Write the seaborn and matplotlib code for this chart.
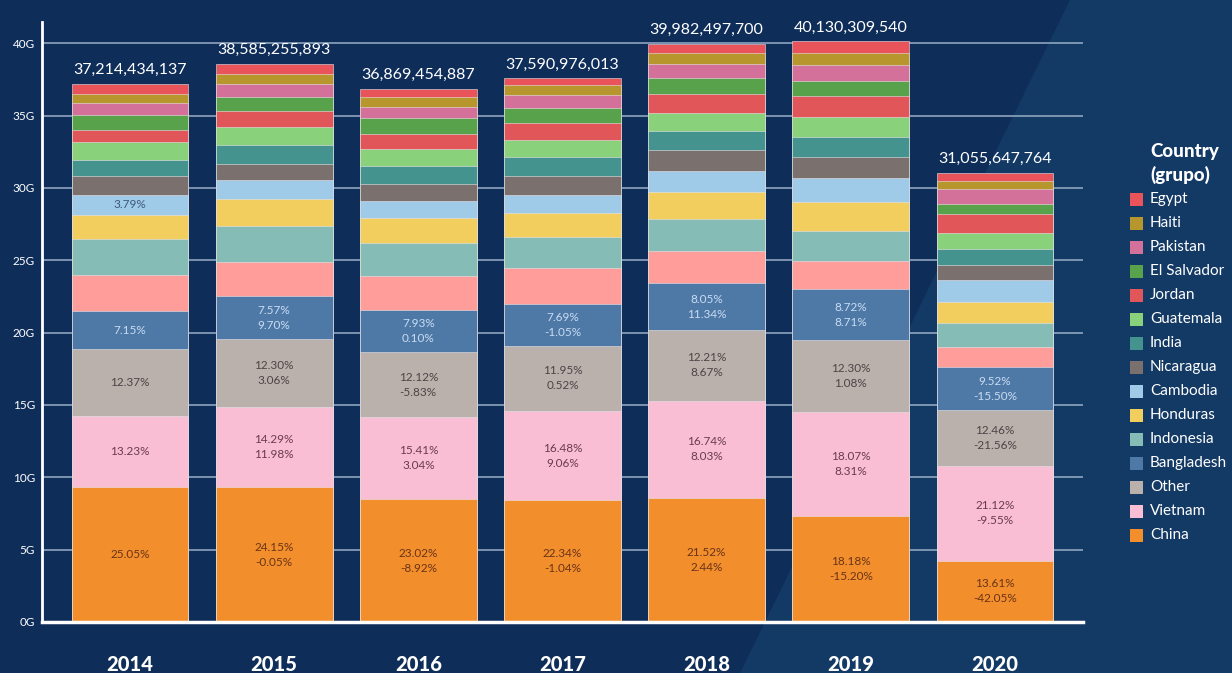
import matplotlib
matplotlib.use("Agg")
import matplotlib.pyplot as plt
from matplotlib.patches import Rectangle, Polygon
import numpy as np
import seaborn as sns

years = ["2014", "2015", "2016", "2017", "2018", "2019", "2020"]
totals = [37214434137, 38585255893, 36869454887, 37590976013,
          39982497700, 40130309540, 31055647764]

# segment values in G (billions)
china = [9.322, 9.318, 8.487, 8.398, 8.604, 7.296, 4.227]
vietnam = [4.923, 5.514, 5.682, 6.195, 6.693, 7.252, 6.559]
other = [4.603, 4.746, 4.469, 4.492, 4.882, 4.936, 3.870]
bangladesh = [2.661, 2.921, 2.924, 2.891, 3.219, 3.499, 2.956]
unlabelled = [2.49, 2.416, 2.35, 2.495, 2.234, 1.99, 1.38]   # salmon band, not in legend
indonesia = [2.455, 2.46, 2.27, 2.14, 2.21, 2.06, 1.70]
honduras = [1.68, 1.84, 1.76, 1.66, 1.87, 2.00, 1.42]
cambodia = [1.410, 1.32, 1.14, 1.24, 1.44, 1.65, 1.51]
nicaragua = [1.29, 1.14, 1.20, 1.31, 1.49, 1.45, 1.02]
india = [1.08, 1.30, 1.22, 1.31, 1.30, 1.38, 1.11]
guatemala = [1.26, 1.21, 1.18, 1.15, 1.21, 1.38, 1.11]
jordan = [0.86, 1.10, 1.05, 1.20, 1.37, 1.45, 1.31]
el_salvador = [1.04, 1.00, 1.07, 1.06, 1.10, 1.08, 0.69]
pakistan = [0.80, 0.87, 0.82, 0.85, 0.91, 1.08, 1.08]
haiti = [0.65, 0.75, 0.66, 0.74, 0.77, 0.83, 0.53]
egypt = [0.69, 0.68, 0.59, 0.46, 0.68, 0.79, 0.58]

# share of total / change vs previous year
china_lbl = [["25.05%"], ["24.15%", "-0.05%"], ["23.02%", "-8.92%"], ["22.34%", "-1.04%"],
             ["21.52%", "2.44%"], ["18.18%", "-15.20%"], ["13.61%", "-42.05%"]]
vietnam_lbl = [["13.23%"], ["14.29%", "11.98%"], ["15.41%", "3.04%"], ["16.48%", "9.06%"],
               ["16.74%", "8.03%"], ["18.07%", "8.31%"], ["21.12%", "-9.55%"]]
other_lbl = [["12.37%"], ["12.30%", "3.06%"], ["12.12%", "-5.83%"], ["11.95%", "0.52%"],
             ["12.21%", "8.67%"], ["12.30%", "1.08%"], ["12.46%", "-21.56%"]]
bangladesh_lbl = [["7.15%"], ["7.57%", "9.70%"], ["7.93%", "0.10%"], ["7.69%", "-1.05%"],
                  ["8.05%", "11.34%"], ["8.72%", "8.71%"], ["9.52%", "-15.50%"]]
cambodia_lbl = [["3.79%"], [], [], [], [], [], []]

# bottom -> top
series = [
    ("China", china, "#F28E2B", china_lbl, "#6a3418"),
    ("Vietnam", vietnam, "#F9BDD4", vietnam_lbl, "#6a3c4c"),
    ("Other", other, "#BAB0AC", other_lbl, "#4b4545"),
    ("Bangladesh", bangladesh, "#4E79A7", bangladesh_lbl, "#c9dcf2"),
    (None, unlabelled, "#FF9D9A", None, None),
    ("Indonesia", indonesia, "#86BCB6", None, None),
    ("Honduras", honduras, "#F2CE5F", None, None),
    ("Cambodia", cambodia, "#A0CBE8", cambodia_lbl, "#3d5a78"),
    ("Nicaragua", nicaragua, "#7A706E", None, None),
    ("India", india, "#44938F", None, None),
    ("Guatemala", guatemala, "#8AD17B", None, None),
    ("Jordan", jordan, "#E15759", None, None),
    ("El Salvador", el_salvador, "#57A24B", None, None),
    ("Pakistan", pakistan, "#D4719A", None, None),
    ("Haiti", haiti, "#B8962E", None, None),
    ("Egypt", egypt, "#E8545A", None, None),
]

plt.rcParams['font.family'] = ['Lato', 'DejaVu Sans']

W, H = 1232, 673
fig = plt.figure(figsize=(W / 100, H / 100), dpi=100)
fig.patch.set_facecolor("#0e2d59")
# lighter diagonal panel on the right of the slide
fig.add_artist(Polygon([(1070 / W, 1), (1, 1), (1, 0), (740 / W, 0)],
                       closed=True, transform=fig.transFigure,
                       facecolor="#133965", edgecolor="none", zorder=0))

ax = fig.add_axes([42 / W, 1 - 622 / H, (1083 - 42) / W, (622 - 34) / H])
ax.patch.set_alpha(0)

vals = np.array([s[1] for s in series])
cum = np.cumsum(vals, axis=0)

# draw cumulative heights from the top band down so they stack
for i in range(len(series) - 1, -1, -1):
    sns.barplot(x=years, y=cum[i], color=series[i][2], saturation=1,
                width=0.81, edgecolor="#e8e4ea", linewidth=0.4, ax=ax, zorder=2)

for i, (name, v, col, lbls, tcol) in enumerate(series):
    if lbls is None:
        continue
    for j in range(len(years)):
        if not lbls[j]:
            continue
        mid = cum[i][j] - v[j] / 2
        ax.text(j, mid, "\n".join(lbls[j]), ha="center", va="center",
                fontsize=8.5, color=tcol, linespacing=1.45, zorder=5)

for j, t in enumerate(totals):
    ax.text(j, cum[-1][j] + 0.45, f"{t:,}", ha="center", va="bottom",
            fontsize=11.5, color="white", zorder=5)

ax.set_xlim(-0.61, 6.61)
ax.set_ylim(0, 40.64)
ax.set_yticks(range(0, 45, 5))
ax.set_yticklabels([f"{v}G" for v in range(0, 45, 5)])
ax.yaxis.grid(True, color="#8ea4c0", linewidth=1.2)
ax.xaxis.grid(False)
ax.set_axisbelow(True)
ax.tick_params(axis="y", length=0, pad=5, labelsize=8.5, labelcolor="white")
ax.tick_params(axis="x", length=0, pad=24, labelsize=14.5, labelcolor="white")
for lab in ax.get_xticklabels():
    lab.set_fontweight("black")
ax.set_xlabel("")
ax.set_ylabel("")
for s in ["top", "right"]:
    ax.spines[s].set_visible(False)
ax.spines["left"].set_color("white")
ax.spines["left"].set_linewidth(2)
ax.spines["bottom"].set_color("white")
ax.spines["bottom"].set_linewidth(2.5)
ax.spines["left"].set_bounds(0, 41.5)

# legend, top entry first
fig.text(1150 / W, 1 - 151 / H, "Country", fontsize=13.5, fontweight="black",
         color="white", va="center", ha="left")
fig.text(1150 / W, 1 - 175 / H, "(grupo)", fontsize=13.5, fontweight="black",
         color="white", va="center", ha="left")
legend_items = [s for s in series[::-1] if s[0] is not None]
for k, (name, v, col, lbls, tcol) in enumerate(legend_items):
    yc = 199 + k * 24
    fig.add_artist(Rectangle((1130 / W, 1 - (yc + 7) / H), 13 / W, 13 / H,
                             transform=fig.transFigure, facecolor=col,
                             edgecolor="none"))
    fig.text(1150 / W, 1 - yc / H, name, fontsize=11, color="white",
             va="center", ha="left")

fig.savefig("out.png", dpi=100, facecolor=fig.get_facecolor())
